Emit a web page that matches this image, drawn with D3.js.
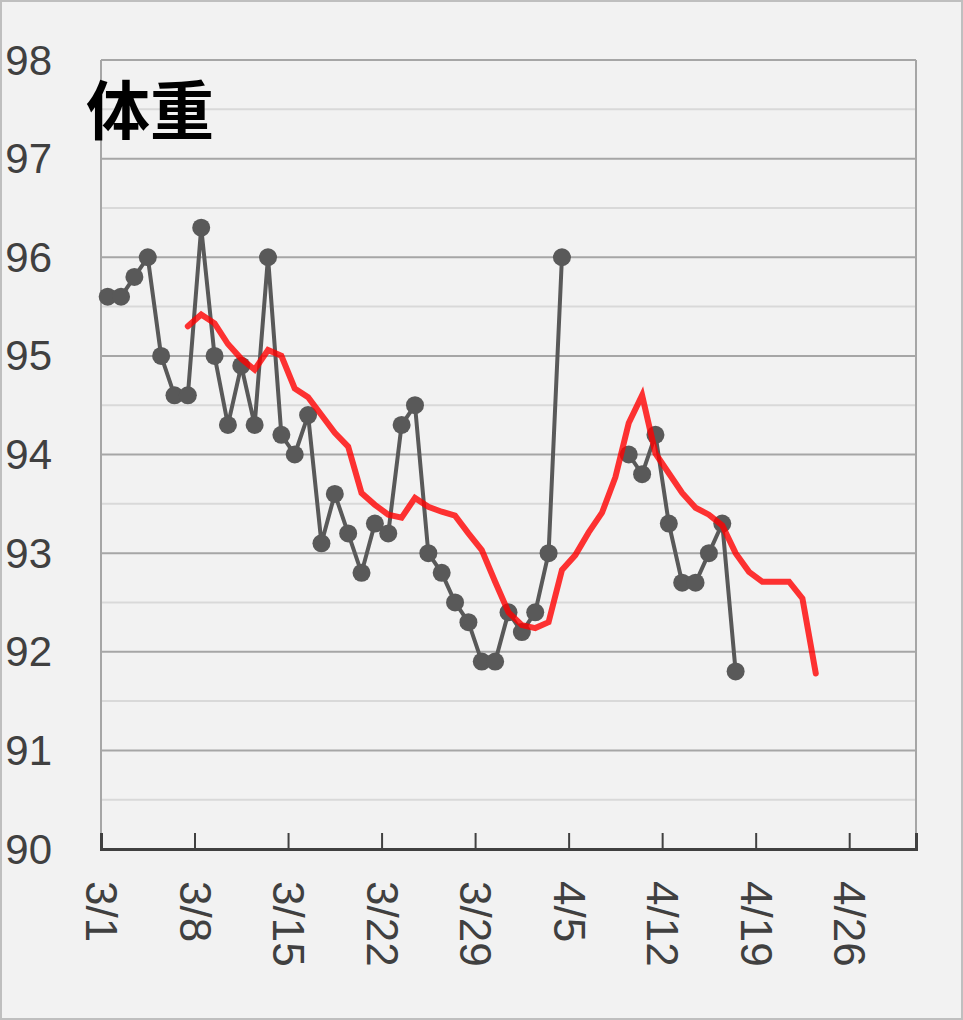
<!DOCTYPE html>
<html>
<head>
<meta charset="utf-8">
<script src="https://cdn.jsdelivr.net/npm/d3@7"></script>
<style>
  html, body { margin: 0; padding: 0; background: #f2f2f2; }
  svg { display: block; }
</style>
</head>
<body>
<div id="my_dataviz"></div>
<script>
// daily weight (null = no measurement)
var weightDates = ["3/1", "3/2", "3/3", "3/4", "3/5", "3/6", "3/7", "3/8", "3/9", "3/10",
  "3/11", "3/12", "3/13", "3/14", "3/15", "3/16", "3/17", "3/18", "3/19", "3/20",
  "3/21", "3/22", "3/23", "3/24", "3/25", "3/26", "3/27", "3/28", "3/29", "3/30",
  "3/31", "4/1", "4/2", "4/3", "4/4", "4/5", "4/6", "4/7", "4/8", "4/9",
  "4/10", "4/11", "4/12", "4/13", "4/14", "4/15", "4/16", "4/17"];
var weights = [95.6, 95.6, 95.8, 96.0, 95.0, 94.6, 94.6, 96.3, 95.0, 94.3,
  94.9, 94.3, 96.0, 94.2, 94.0, 94.4, 93.1, 93.6, 93.2, 92.8,
  93.3, 93.2, 94.3, 94.5, 93.0, 92.8, 92.5, 92.3, 91.9, 91.9,
  92.4, 92.2, 92.4, 93.0, 96.0, null, null, null, null, 94.0,
  93.8, 94.2, 93.3, 92.7, 92.7, 93.0, 93.3, 91.8];

// trend line (red)
var trendDates = ["3/7", "3/8", "3/9", "3/10", "3/11", "3/12", "3/13", "3/14", "3/15", "3/16",
  "3/17", "3/18", "3/19", "3/20", "3/21", "3/22", "3/23", "3/24", "3/25", "3/26",
  "3/27", "3/28", "3/29", "3/30", "3/31", "4/1", "4/2", "4/3", "4/4", "4/5",
  "4/6", "4/7", "4/8", "4/9", "4/10", "4/11", "4/12", "4/13", "4/14", "4/15",
  "4/16", "4/17", "4/18", "4/19", "4/20", "4/21", "4/22", "4/23"];
var trend = [95.3, 95.42, 95.33, 95.12, 94.97, 94.86, 95.06, 95.0, 94.67, 94.58,
  94.4, 94.22, 94.08, 93.61, 93.49, 93.39, 93.36, 93.56, 93.47, 93.42,
  93.38, 93.2, 93.03, 92.71, 92.4, 92.27, 92.24, 92.3, 92.83, 92.98,
  93.21, 93.41, 93.77, 94.32, 94.6, 94.01, 93.81, 93.61, 93.46, 93.39,
  93.28, 93.0, 92.81, 92.71, 92.71, 92.71, 92.54, 91.78];

// axis ticks
var xTickLabels = ["3/1", "3/8", "3/15", "3/22", "3/29", "4/5", "4/12", "4/19", "4/26"];
var yTicks = [90, 91, 92, 93, 94, 95, 96, 97, 98];
var yMinor = [90.5, 91.5, 92.5, 93.5, 94.5, 95.5, 96.5, 97.5];

var title = "体重";

// "m/d" -> UTC date (measurements sit at noon)
function parseDay(s, hour) {
  var p = s.split("/");
  return new Date(Date.UTC(2020, +p[0] - 1, +p[1], hour || 0));
}

var W = 963, H = 1020;
var margin = { top: 60, right: 47, bottom: 171, left: 101 },
  width = W - margin.left - margin.right,
  height = H - margin.top - margin.bottom;

var svg = d3.select("#my_dataviz")
  .append("svg")
  .attr("width", W)
  .attr("height", H);

// outer frame
svg.append("rect")
  .attr("x", 1).attr("y", 1)
  .attr("width", W - 2).attr("height", H - 2)
  .attr("fill", "#f2f2f2")
  .attr("stroke", "#bfbfbf")
  .attr("stroke-width", 2);

var g = svg.append("g")
  .attr("transform", "translate(" + margin.left + "," + margin.top + ")");

var x = d3.scaleUtc()
  .domain([parseDay("3/1"), parseDay("5/1")])
  .range([0, width]);

var y = d3.scaleLinear()
  .domain([90, 98])
  .range([height, 0]);

// minor grid
g.selectAll(".minor")
  .data(yMinor)
  .enter()
  .append("line")
  .attr("x1", 0).attr("x2", width)
  .attr("y1", function(d) { return y(d); })
  .attr("y2", function(d) { return y(d); })
  .attr("stroke", "#d9d9d9")
  .attr("stroke-width", 2);

// major grid
g.selectAll(".major")
  .data(yTicks.slice(1))
  .enter()
  .append("line")
  .attr("x1", 0).attr("x2", width)
  .attr("y1", function(d) { return y(d); })
  .attr("y2", function(d) { return y(d); })
  .attr("stroke", "#a6a6a6")
  .attr("stroke-width", 2);

// left and right frame
g.append("line")
  .attr("x1", 0).attr("x2", 0)
  .attr("y1", 0).attr("y2", height)
  .attr("stroke", "#a6a6a6").attr("stroke-width", 2);
g.append("line")
  .attr("x1", width).attr("x2", width)
  .attr("y1", 0).attr("y2", height)
  .attr("stroke", "#a6a6a6").attr("stroke-width", 2);

// Y labels
g.selectAll(".ylab")
  .data(yTicks)
  .enter()
  .append("text")
  .attr("x", -49)
  .attr("y", function(d) { return y(d); })
  .attr("text-anchor", "end")
  .attr("dominant-baseline", "central")
  .style("font-family", "'Liberation Sans', Arial, sans-serif")
  .style("font-size", "42px")
  .style("fill", "#404040")
  .text(function(d) { return d; });

// X axis
var xTicks = xTickLabels.map(function(s) { return parseDay(s); });
var xAxis = g.append("g")
  .attr("transform", "translate(0," + height + ")")
  .call(d3.axisBottom(x)
    .tickValues(xTicks)
    .tickSize(-16)
    .tickFormat(function(d, i) { return xTickLabels[i]; }));
xAxis.select(".domain")
  .attr("stroke", "#404040")
  .attr("stroke-width", 3);
xAxis.selectAll(".tick line")
  .attr("stroke", "#404040")
  .attr("stroke-width", 2);
xAxis.selectAll(".tick text")
  .attr("y", 0).attr("dy", null)
  .attr("transform", "translate(0,32)rotate(90)")
  .attr("text-anchor", "start")
  .attr("dominant-baseline", "central")
  .style("font-family", "'Liberation Sans', Arial, sans-serif")
  .style("font-size", "44px")
  .style("fill", "#404040");

// weight line + dots
var weightData = weightDates.map(function(s, i) {
  return { date: parseDay(s, 12), value: weights[i] };
});

g.append("path")
  .datum(weightData)
  .attr("fill", "none")
  .attr("stroke", "#595959")
  .attr("stroke-width", 4)
  .attr("stroke-linejoin", "round")
  .attr("d", d3.line()
    .defined(function(d) { return d.value != null; })
    .x(function(d) { return x(d.date); })
    .y(function(d) { return y(d.value); }));

g.append("g")
  .selectAll("circle")
  .data(weightData.filter(function(d) { return d.value != null; }))
  .enter()
  .append("circle")
  .attr("cx", function(d) { return x(d.date); })
  .attr("cy", function(d) { return y(d.value); })
  .attr("r", 9)
  .style("fill", "#595959");

// trend line
var trendData = trendDates.map(function(s, i) {
  return { date: parseDay(s, 12), value: trend[i] };
});

g.append("path")
  .datum(trendData)
  .attr("fill", "none")
  .attr("stroke", "#ff0000")
  .attr("stroke-opacity", 0.8)
  .attr("stroke-width", 6)
  .attr("stroke-linecap", "round")
  .attr("stroke-linejoin", "miter")
  .attr("d", d3.line()
    .x(function(d) { return x(d.date); })
    .y(function(d) { return y(d.value); }));

// title
svg.append("text")
  .attr("x", 86)
  .attr("y", 134)
  .style("font-family", "'Noto Sans CJK JP', sans-serif")
  .style("font-weight", "bold")
  .style("font-size", "64px")
  .style("fill", "#000")
  .text(title);
</script>
</body>
</html>
